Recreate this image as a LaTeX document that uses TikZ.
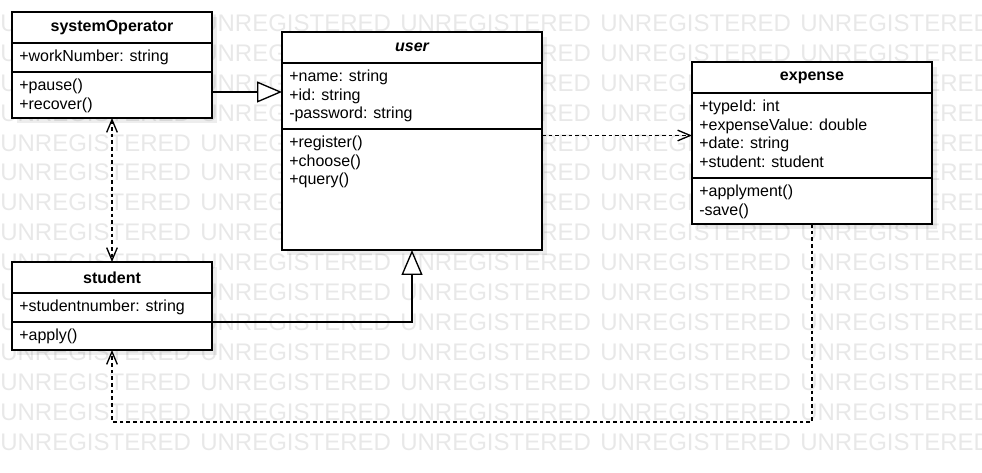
\documentclass[tikz,border=0pt]{standalone}
\usepackage{fontspec}
\setmainfont{Liberation Sans}
\usetikzlibrary{positioning,arrows.meta,backgrounds}

\tikzset{
	classname/.style={draw, fill=white, line width=1pt, anchor=north west, inner sep=0pt, outer sep=0pt, minimum height=23.25pt, font=\bfseries\fontsize{12}{14}\selectfont},
	compartment/.style={draw, fill=white, line width=1pt, inner sep=0pt, outer sep=0pt},
	members/.style={anchor=north west, inner xsep=5.25pt, inner ysep=5pt, align=left, font=\fontsize{12}{14}\selectfont},
	gen/.style={line width=1pt, -{Triangle[length=18.75pt, width=15.75pt, fill=white]}},
	dep/.style={line width=1pt, dash pattern=on 2.75pt off 2.25pt, ->},
	shade/.style={fill=black, fill opacity=0.07},
	watermark/.style={anchor=base west, inner sep=0pt, text=black!9, font=\fontsize{18}{18}\selectfont},
	>={Straight Barb[length=9.5pt, width=8pt]}
}

\begin{document}
\begin{tikzpicture}[x=0.75pt, y=-0.75pt]
	\useasboundingbox (0,0) rectangle (982,473);

	% systemOperator
	\node[classname, minimum width=150pt] (sysop) at (12,12) {systemOperator};
	\node[compartment, minimum width=150pt, minimum height=21.75pt, below=0pt of sysop] (sysop-attr) {};
	\node[compartment, minimum width=150pt, minimum height=34.5pt, below=0pt of sysop-attr] (sysop-ops) {};
	\node[members] (sysop-attr-list) at (sysop-attr.north west) {+workNumber: string};
	\node[members] (sysop-ops-list) at (sysop-ops.north west) {+pause()\\+recover()};

	% user
	\node[classname, minimum width=195pt, font=\bfseries\itshape\fontsize{12}{14}\selectfont] (user) at (282,32) {user};
	\node[compartment, minimum width=195pt, minimum height=49.5pt, below=0pt of user] (user-attr) {};
	\node[compartment, minimum width=195pt, minimum height=90.75pt, below=0pt of user-attr] (user-ops) {};
	\node[members] (user-attr-list) at (user-attr.north west) {+name: string\\+id: string\\-password: string};
	\node[members] (user-ops-list) at (user-ops.north west) {+register()\\+choose()\\+query()};

	% expense
	\node[classname, minimum width=180pt] (expense) at (692,62) {expense};
	\node[compartment, minimum width=180pt, minimum height=63.75pt, below=0pt of expense] (expense-attr) {};
	\node[compartment, minimum width=180pt, minimum height=34.5pt, below=0pt of expense-attr] (expense-ops) {};
	\node[members] (expense-attr-list) at (expense-attr.north west) {+typeId: int\\+expenseValue: double\\+date: string\\+student: student};
	\node[members] (expense-ops-list) at (expense-ops.north west) {+applyment()\\-save()};

	% student
	\node[classname, minimum width=150pt] (student) at (12,262) {student};
	\node[compartment, minimum width=150pt, minimum height=21.75pt, below=0pt of student] (student-attr) {};
	\node[compartment, minimum width=150pt, minimum height=21pt, below=0pt of student-attr] (student-ops) {};
	\node[members] (student-attr-list) at (student-attr.north west) {+studentnumber: string};
	\node[members] (student-ops-list) at (student-ops.north west) {+apply()};

	\coordinate (sysop-hook) at ([yshift=2.25pt]sysop-ops.east);
	\draw[gen] (sysop-hook) -- (sysop-hook -| user-attr.west);
	\draw[gen] (student-attr.south east) -| (user-ops.south);
	\draw[dep, <->] (sysop-ops.south) -- (student.north);
	\draw[dep] (user-ops.east |- expense-attr.west) -- (expense-attr.west);
	\draw[dep] (expense-ops.south) -- ++(0,198) -| (student-ops.south);

	\begin{scope}[on background layer]
		\clip (0,0) rectangle (982,473);
		\foreach \row in {0,...,14}
			\foreach \col in {0,...,4}
				\node[watermark] (wm-\row-\col) at (200*\col, 31.5+29.9*\row) {UNREGISTERED};
		\fill[shade] ([shift={(5,5)}]sysop.north west) rectangle ([shift={(5,5)}]sysop-ops.south east);
		\fill[shade] ([shift={(5,5)}]user.north west) rectangle ([shift={(5,5)}]user-ops.south east);
		\fill[shade] ([shift={(5,5)}]expense.north west) rectangle ([shift={(5,5)}]expense-ops.south east);
		\fill[shade] ([shift={(5,5)}]student.north west) rectangle ([shift={(5,5)}]student-ops.south east);
	\end{scope}
\end{tikzpicture}
\end{document}
